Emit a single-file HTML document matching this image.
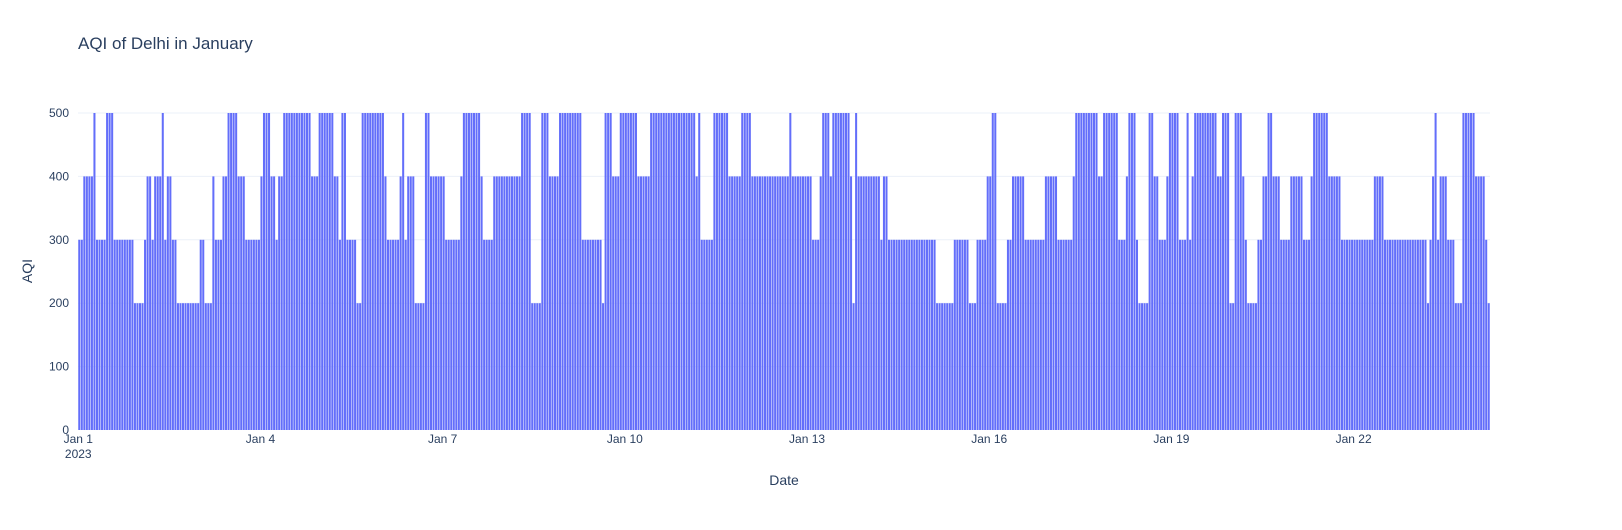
<!DOCTYPE html>
<html><head><meta charset="utf-8"><style>
body{margin:0;background:#fff;}
svg text{font-family:"Liberation Sans",Arial,sans-serif;fill:#2a3f5f;}
</style></head><body>
<svg id="chart" width="1622" height="525" xmlns="http://www.w3.org/2000/svg">
<rect width="1622" height="525" fill="#fff"/>
<text x="78" y="49" font-size="17">AQI of Delhi in January</text>
<g id="grid"></g><g id="bars"></g><g id="axes"></g>
<text x="784" y="485" font-size="14" text-anchor="middle">Date</text>
<text x="32" y="271" font-size="14" text-anchor="middle" transform="rotate(-90 32 271)">AQI</text>
</svg>
<script>
const yTicks=[0,100,200,300,400,500];
const xTickDays=[1,4,7,10,13,16,19,22];
const xTickLabels=["Jan 1","Jan 4","Jan 7","Jan 10","Jan 13","Jan 16","Jan 19","Jan 22"];
const aqi=[300,300,400,400,400,400,500,300,300,300,300,500,500,500,300,300,300,300,300,300,300,300,
200,200,200,200,300,400,400,300,400,400,400,500,300,400,400,300,300,
200,200,200,200,200,200,200,200,200,300,300,200,200,200,400,300,300,300,400,400,
500,500,500,500,400,400,400,300,300,300,300,300,300,400,500,500,500,400,400,300,400,400,
500,500,500,500,500,500,500,500,500,500,500,400,400,400,500,500,500,500,500,500,400,400,300,500,500,
300,300,300,300,200,200,500,500,500,500,500,500,500,500,500,400,300,300,300,300,300,400,500,300,
400,400,400,200,200,200,200,500,500,400,400,400,400,400,400,300,300,300,300,300,300,400,
500,500,500,500,500,500,500,400,300,300,300,300,400,400,400,400,400,400,400,400,400,400,400,
500,500,500,500,200,200,200,200,500,500,500,400,400,400,400,500,500,500,500,500,500,500,500,500,
300,300,300,300,300,300,300,300,200,500,500,500,400,400,400,500,500,500,500,500,500,500,400,400,400,400,400,
500,500,500,500,500,500,500,500,500,500,500,500,500,500,500,500,500,500,400,500,
300,300,300,300,300,500,500,500,500,500,500,400,400,400,400,400,500,500,500,500,
400,400,400,400,400,400,400,400,400,400,400,400,400,400,400,500,400,400,400,400,400,400,400,400,
300,300,300,400,500,500,500,400,500,500,500,500,500,500,500,400,200,500,
400,400,400,400,400,400,400,400,400,300,400,400,
300,300,300,300,300,300,300,300,300,300,300,300,300,300,300,300,300,300,300,
200,200,200,200,200,200,200,300,300,300,300,300,300,200,200,200,300,300,300,300,400,400,500,500,
200,200,200,200,300,300,400,400,400,400,400,300,300,300,300,300,300,300,300,400,400,400,400,400,
300,300,300,300,300,300,400,500,500,500,500,500,500,500,500,500,400,400,500,500,500,500,500,500,
300,300,300,400,500,500,500,300,200,200,200,200,500,500,400,400,300,300,300,400,500,500,500,500,
300,300,300,500,300,400,500,500,500,500,500,500,500,500,500,400,400,500,500,500,200,200,500,500,500,
400,300,200,200,200,200,300,300,400,400,500,500,400,400,400,300,300,300,300,400,400,400,400,400,
300,300,300,400,500,500,500,500,500,500,400,400,400,400,400,
300,300,300,300,300,300,300,300,300,300,300,300,300,400,400,400,400,
300,300,300,300,300,300,300,300,300,300,300,300,300,300,300,300,300,
200,300,400,500,300,400,400,400,300,300,300,200,200,200,500,500,500,500,500,400,400,400,400,300,200];
const NS="http://www.w3.org/2000/svg";
const L=78,R=1490,T=113,B=430,YMAX=500;
const N=aqi.length;
const xs=h=>L+(h+0.5)*(R-L)/N;
const ys=v=>B-v*(B-T)/YMAX;
const bw=(R-L)/N;
function mk(tag,attrs,parent){const e=document.createElementNS(NS,tag);for(const k in attrs)e.setAttribute(k,attrs[k]);parent.appendChild(e);return e;}
const grid=document.getElementById('grid'),bars=document.getElementById('bars'),axes=document.getElementById('axes');
yTicks.forEach(v=>{
  if(v>0){const g=mk('line',{x1:L,x2:R,y1:ys(v),y2:ys(v),stroke:'#ebf0f8','stroke-width':1},grid);
  
  }
  const t=mk('text',{x:L-9,y:ys(v)+4,'font-size':12,'text-anchor':'end'},axes);
  t.textContent=v;
  
  
});
aqi.forEach((v,i)=>{
  const r=mk('rect',{x:xs(i)-bw*0.4,y:ys(v),width:bw*0.8,height:B-ys(v),fill:'#636efa'},bars);
  
  
});
xTickDays.forEach((d,i)=>{
  const h=(d-1)*24;
  const t=mk('text',{x:xs(h)-1,y:443,'font-size':12,'text-anchor':'middle'},axes);
  t.textContent=xTickLabels[i];
  
  
});
const yr=mk('text',{x:xs(0)-1,y:458,'font-size':12,'text-anchor':'middle'},axes);
yr.textContent='2023';


</script>
</body></html>
